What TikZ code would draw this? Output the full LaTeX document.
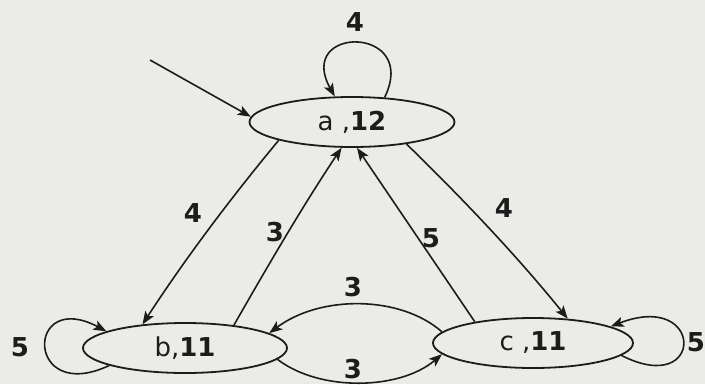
\documentclass[tikz,border=0pt]{standalone}
\usepackage{fontspec}
\setmainfont{DejaVu Sans}
\usetikzlibrary{shapes.geometric,arrows.meta}
\definecolor{paper}{RGB}{235,235,232}
\definecolor{ink}{RGB}{28,28,28}
\begin{document}
\begin{tikzpicture}[x=1pt,y=-1pt,
  state/.style={ellipse, draw=ink, line width=1.8pt, fill=paper, minimum width=205pt, minimum height=50pt, inner sep=0pt, text=ink, font=\fontsize{26}{30}\selectfont},
  edge/.style={draw=ink, line width=1.6pt, -{Stealth[length=13pt,width=10pt,inset=3pt]}},
  lbl/.style={font=\fontsize{26}{30}\selectfont\bfseries, text=ink, inner sep=0pt}]
\fill[paper] (0,0) rectangle (705,384);
\useasboundingbox (0,0) rectangle (705,384);
\node[state] (a) at (352,122) {a ,\textbf{12}};
\node[state, minimum width=204pt] (b) at (185,348) {b,\textbf{11}};
\node[state, minimum width=200pt] (c) at (533,343) {c ,\textbf{11}};
\coordinate (init) at (150,60);
% edges
\draw[edge] (init) -- (a.177);
\draw[edge] (a.37) .. controls (420,25) and (295,25) .. (a.124);
\draw[edge] (a.194) .. controls (230,199) and (185,259) .. (b.151);
\draw[edge] (b.25) .. controls (270,262) and (304,204) .. (a.248);
\draw[edge] (c.160) -- (a.281);
\draw[edge] (a.338) .. controls (463,199) and (517,256) .. (c.35);
\draw[edge] (c.173) .. controls (400,295) and (320,295) .. (b.10);
\draw[edge] (b.-7) .. controls (320,392) and (400,390) .. (c.187);
\draw[edge] (b.193) .. controls (25,405) and (25,288) .. (b.168);
\draw[edge] (c.-8) .. controls (705,398) and (705,290) .. (c.12.5);
% labels
\node[lbl] (la) at (355,22) {4};
\node[lbl] (lab) at (193,213) {4};
\node[lbl] (lba) at (275,232) {3};
\node[lbl] (lca) at (431,238) {5};
\node[lbl] (lac) at (504,208) {4};
\node[lbl] (lcb) at (353,287) {3};
\node[lbl] (lbc) at (353,369) {3};
\node[lbl] (lb) at (20,347) {5};
\node[lbl] (lc) at (696,342) {5};
\end{tikzpicture}
\end{document}
